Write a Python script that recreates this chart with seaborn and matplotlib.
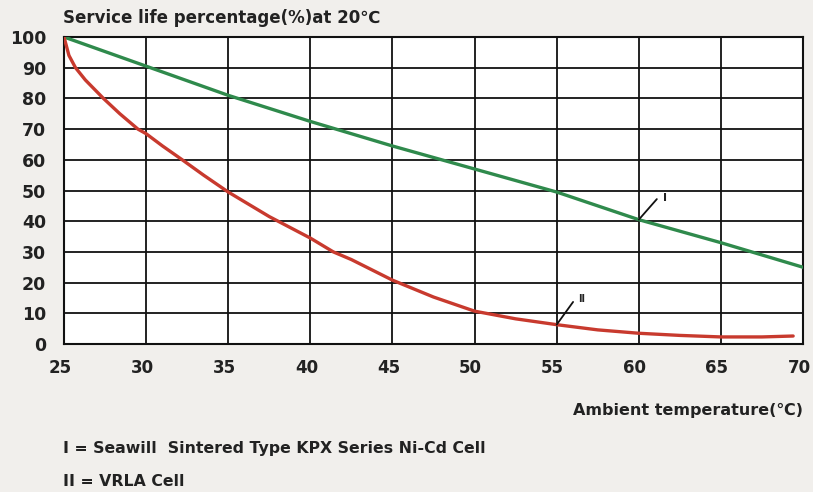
import numpy as np
import pandas as pd
import matplotlib
matplotlib.use("Agg")
import matplotlib.pyplot as plt
import matplotlib.transforms as mtransforms
import seaborn as sns

# Data
temp_I = [25, 30, 35, 40, 45, 50, 55, 60, 65, 70]
life_I = [100, 90.5, 81, 72.5, 64.5, 57, 49.5, 40.5, 33, 25]

temp_II = [25, 25.3, 25.7, 26.3, 27.4, 28.4, 29.5, 30, 31, 32.2, 33.5, 35, 37.5,
           40, 41.4, 42.5, 45, 47.5, 50, 52.5, 55, 57.5, 60, 62.5, 65, 67.5, 69.4]
life_II = [100, 94, 90, 86, 80, 75, 70, 68.5, 64.5, 60, 55, 49.5, 41.5,
           34.5, 30, 27.5, 20.8, 15.3, 10.7, 8.2, 6.3, 4.6, 3.5, 2.8, 2.3, 2.3, 2.6]

x_ticks = [25, 30, 35, 40, 45, 50, 55, 60, 65, 70]
y_ticks = [0, 10, 20, 30, 40, 50, 60, 70, 80, 90, 100]

title_text = "Service life percentage(%)at 20\u2103"
xlabel_text = "Ambient temperature(\u2103)"
legend_lines = ["I = Seawill  Sintered Type KPX Series Ni-Cd Cell", "II = VRLA Cell"]

df = pd.concat([
    pd.DataFrame({"temp": temp_I, "life": life_I, "series": "I"}),
    pd.DataFrame({"temp": temp_II, "life": life_II, "series": "II"}),
])

sns.set_style("white")
plt.rcParams["font.family"] = ["DejaVu Sans", "Noto Sans CJK SC"]

bg = "#f1efec"
txt = "#222222"
fig = plt.figure(figsize=(8.13, 4.92), dpi=100, facecolor=bg)
ax = fig.add_axes([64/813, 1-344/492, (803-64)/813, (344-37)/492])
ax.set_facecolor("white")

palette = {"I": "#2f8a4c", "II": "#c83a2e"}
sns.lineplot(data=df, x="temp", y="life", hue="series", palette=palette,
             linewidth=2.4, legend=False, ax=ax, sort=True, estimator=None, zorder=3)

ax.set_xlim(25, 70)
ax.set_ylim(0, 100)
ax.set_xticks(x_ticks)
ax.set_yticks(y_ticks)
ax.set_xticklabels([str(v) for v in x_ticks], fontsize=12, fontweight="bold", color=txt)
ax.set_yticklabels([str(v) for v in y_ticks], fontsize=12.5, fontweight="bold", color=txt)
ax.tick_params(axis="both", length=0)
ax.tick_params(axis="x", pad=11)
ax.tick_params(axis="y", pad=13)
ax.grid(True, color="#111111", linewidth=1.3)
ax.set_axisbelow(True)
for s in ax.spines.values():
    s.set_color("#111111")
    s.set_linewidth(1.5)
ax.set_xlabel("")
ax.set_ylabel("")

# leader lines and labels
ax.plot([60, 61.1], [40.5, 47.2], color="#111111", linewidth=1.3, zorder=4)
ax.text(61.5, 47.5, "I", fontsize=8, fontweight="bold", color=txt, va="center", ha="left")
ax.plot([55, 56.0], [6.3, 13.7], color="#111111", linewidth=1.3, zorder=4)
ax.text(56.3, 14.5, "II", fontsize=7, fontweight="bold", color=txt, va="center", ha="left")

fig.text(63/813, 1-18/492, title_text, fontsize=12, fontweight="bold", color=txt,
         ha="left", va="center")
fig.text(803/813, 1-410/492, xlabel_text, fontsize=11.5, fontweight="bold", color=txt,
         ha="right", va="center")
fig.text(63/813, 1-449/492, legend_lines[0], fontsize=11.3, fontweight="bold", color=txt,
         ha="left", va="center")
fig.text(63/813, 1-481/492, legend_lines[1], fontsize=11.3, fontweight="bold", color=txt,
         ha="left", va="center")

# nudge x tick labels slightly left as in the reference
fig.canvas.draw()
shift = mtransforms.ScaledTranslation(-4/100, 0, fig.dpi_scale_trans)
for tick in ax.xaxis.get_major_ticks():
    tick.label1.set_transform(tick.label1.get_transform() + shift)

fig.savefig("out.png", dpi=100, facecolor=bg)
